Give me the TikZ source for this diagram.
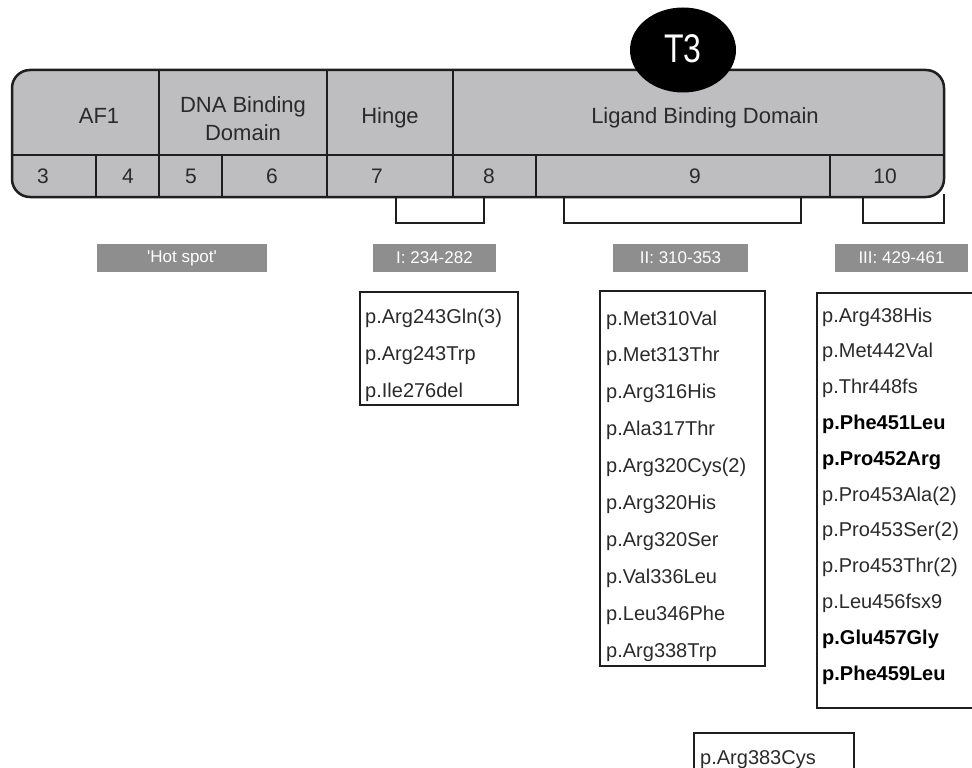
\documentclass[tikz,border=0pt]{standalone}
\usepackage{fontspec}
\usepackage{graphicx}
\setmainfont{Liberation Sans}
\usetikzlibrary{shapes.geometric}
\definecolor{barfill}{HTML}{BEBEC1}
\definecolor{lblfill}{HTML}{8E8E8E}
\definecolor{ink}{HTML}{1E1E1E}
\definecolor{txt}{HTML}{2A2A2A}
\tikzset{
  barline/.style={draw=ink, line width=2.5pt},
  bartext/.style={font=\fontsize{22}{28}\selectfont, text=txt, anchor=base, inner sep=0},
  numtext/.style={font=\fontsize{21}{24}\selectfont, text=txt, anchor=base, inner sep=0},
  lbl/.style={fill=lblfill, text=white, font=\fontsize{17}{20}\selectfont, inner sep=0, minimum height=28},
  mutbox/.style={draw=ink, line width=2pt, inner sep=0, anchor=north west},
  mut/.style={font=\fontsize{20}{24}\selectfont, text=txt, anchor=base west, inner sep=0},
  mutb/.style={font=\fontsize{20}{24}\selectfont\bfseries, text=black, anchor=base west, inner sep=0},
  bracket/.style={draw=ink, line width=2.5pt}
}
\begin{document}
\begin{tikzpicture}[x=1pt,y=-1pt]
\useasboundingbox (0,0) rectangle (972,768);
% bar
\draw[barline, fill=barfill, rounded corners=18] (12,70) rectangle (944,197);
\draw[barline] (12,155) -- (944,155);
\foreach \xx in {159,327,453} \draw[barline] (\xx,70) -- (\xx,197);
\foreach \xx in {96,222,536,830} \draw[barline] (\xx,155) -- (\xx,197);
% domain names
\node[bartext] (af1) at (99,123) {AF1};
\node[bartext, align=center] (dbd) at (243,140) {DNA Binding\\Domain};
\node[bartext] (hinge) at (390,123) {Hinge};
\node[bartext] (lbd) at (705,123) {Ligand Binding Domain};
% exon numbers
\node[numtext] (e3) at (43,183) {3};
\node[numtext] (e4) at (128,183) {4};
\node[numtext] (e5) at (191,183) {5};
\node[numtext] (e6) at (272,183) {6};
\node[numtext] (e7) at (377,183) {7};
\node[numtext] (e8) at (489,183) {8};
\node[numtext] (e9) at (695,183) {9};
\node[numtext] (e10) at (885,183) {10};
% T3
\node[ellipse, fill=black, minimum width=106, minimum height=85, inner sep=0] (t3) at (683,50) {};
\node[text=white, font=\fontsize{40}{40}\selectfont, anchor=base, inner sep=0] (t3txt) at (683,63) {\scalebox{0.8}[1]{T3}};
% brackets
\draw[bracket] (396,197) -- (396,223) -- (484,223) -- (484,197);
\draw[bracket] (564,197) -- (564,223) -- (801,223) -- (801,197);
\draw[bracket] (863,197) -- (863,223) -- (944,223) -- (944,194);
% labels
\node[lbl, minimum width=170] (hot) at (182,258) {\textquotesingle Hot spot\textquotesingle};
\node[lbl, minimum width=123] (l1) at (434.5,258) {I: 234-282};
\node[lbl, minimum width=135] (l2) at (680.5,258) {II: 310-353};
\node[lbl, minimum width=133] (l3) at (901.5,258) {III: 429-461};
% mutation boxes
\node[mutbox, minimum width=158, minimum height=113] (b1) at (359,291) {};
\node[mutbox, minimum width=165, minimum height=375] (b2) at (599,290) {};
\node[mutbox, minimum width=175, minimum height=415] (b3) at (816,292) {};
\node[mutbox, minimum width=160, minimum height=70] (b4) at (693,732) {};
% box I
\node[mut] (m1a) at (365,323) {p.Arg243Gln(3)};
\node[mut] (m1b) at (365,360) {p.Arg243Trp};
\node[mut] (m1c) at (365,397) {p.Ile276del};
% box II
\foreach \t [count=\i from 0] in {p.Met310Val,p.Met313Thr,p.Arg316His,p.Ala317Thr,p.Arg320Cys(2),p.Arg320His,p.Arg320Ser,p.Val336Leu,p.Leu346Phe,p.Arg338Trp}
  \node[mut] (m2-\i) at (606,325+36.9*\i) {\t};
% box III
\node[mut]  (m3-0) at (822,322) {p.Arg438His};
\node[mut]  (m3-1) at (822,357.8) {p.Met442Val};
\node[mut]  (m3-2) at (822,393.6) {p.Thr448fs};
\node[mutb] (m3-3) at (822,429.4) {p.Phe451Leu};
\node[mutb] (m3-4) at (822,465.2) {p.Pro452Arg};
\node[mut]  (m3-5) at (822,501) {p.Pro453Ala(2)};
\node[mut]  (m3-6) at (822,536.8) {p.Pro453Ser(2)};
\node[mut]  (m3-7) at (822,572.6) {p.Pro453Thr(2)};
\node[mut]  (m3-8) at (822,608.4) {p.Leu456fsx9};
\node[mutb] (m3-9) at (822,644.2) {p.Glu457Gly};
\node[mutb] (m3-10) at (822,680) {p.Phe459Leu};
% box IV
\node[mut] (m4) at (700,764) {p.Arg383Cys};
\end{tikzpicture}
\end{document}
